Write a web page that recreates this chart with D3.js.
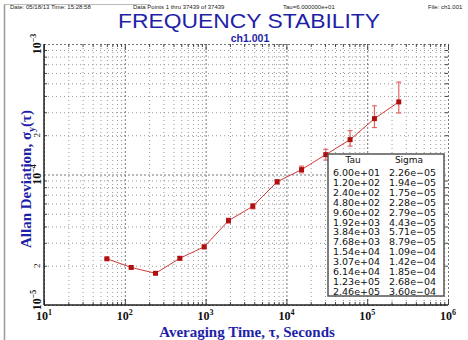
<!DOCTYPE html>
<html>
<head>
<meta charset="utf-8">
<script src="https://cdn.jsdelivr.net/npm/d3@7"></script>
<style>
  body { margin: 0; background: #fff; }
  svg { display: block; }
</style>
</head>
<body>
<svg id="chart"></svg>
<script>
// data
const taus = [6.00e1, 1.20e2, 2.40e2, 4.80e2, 9.60e2, 1.92e3, 3.84e3, 7.68e3, 1.54e4, 3.07e4, 6.14e4, 1.23e5, 2.46e5];
const sigmas = [2.26e-5, 1.94e-5, 1.75e-5, 2.28e-5, 2.79e-5, 4.43e-5, 5.71e-5, 8.79e-5, 1.09e-4, 1.42e-4, 1.85e-4, 2.68e-4, 3.60e-4];
const errLo = [2.23e-5, 1.91e-5, 1.71e-5, 2.21e-5, 2.70e-5, 4.25e-5, 5.45e-5, 8.45e-5, 1.03e-4, 1.29e-4, 1.65e-4, 2.29e-4, 2.96e-4];
const errHi = [2.29e-5, 1.97e-5, 1.79e-5, 2.35e-5, 2.88e-5, 4.62e-5, 5.98e-5, 9.12e-5, 1.16e-4, 1.56e-4, 2.17e-4, 3.36e-4, 5.11e-4];
const xDecades = [1, 2, 3, 4, 5, 6];
const yDecades = [-5, -4, -3];
const headerTexts = ["Date: 05/18/13  Time: 15:28:58", "Data Points 1 thru 37439 of 37439", "Tau=6.000000e+01", "File: ch1.001"];

const width = 468, height = 340;
const margin = { top: 44, right: 20, bottom: 35, left: 44 };
const plotR = 448, plotB = 305;
const blue = "#1f1fa8";

const svg = d3.select("#chart").attr("width", width).attr("height", height);

let x = d3.scaleLog().domain([10, 1e6]).range([margin.left, plotR]);
let y = d3.scaleLog().domain([1e-5, 1e-3]).range([plotB, margin.top]);

// all grid values
let xMinor = [], xMajor = xDecades.map(d => Math.pow(10, d));
for (let d = 1; d < 6; d++) for (let k = 2; k <= 9; k++) xMinor.push(k * Math.pow(10, d));
let yMinor = [], yMajor = yDecades.map(d => Math.pow(10, d));
for (let d = -5; d < -3; d++) for (let k = 2; k <= 9; k++) yMinor.push(k * Math.pow(10, d));

// outer frame
svg.append("line").attr("x1", 4.5).attr("x2", 4.5).attr("y1", 4).attr("y2", height).attr("stroke", "#999").attr("stroke-width", 1.5);
svg.append("line").attr("x1", 4).attr("x2", 150).attr("y1", 4.5).attr("y2", 4.5).attr("stroke", "#bbb").attr("stroke-width", 1);

// header line
const headerX = [10, 133, 283, 428];
svg.selectAll("text.hdr").data(headerTexts).enter().append("text")
  .attr("class", "hdr")
  .attr("x", (d, i) => headerX[i]).attr("y", 9)
  .attr("font-family", "Liberation Sans, Arial, sans-serif")
  .attr("font-size", 6).attr("fill", "#222")
  .text(d => d);

// title
svg.append("text").attr("x", 249).attr("y", 28).attr("text-anchor", "middle")
  .attr("font-family", "Liberation Sans, Arial, sans-serif").attr("font-size", 21)
  .attr("fill", blue).attr("textLength", 262).attr("lengthAdjust", "spacingAndGlyphs")
  .text("FREQUENCY STABILITY");
svg.append("text").attr("x", 250).attr("y", 42).attr("text-anchor", "middle")
  .attr("font-family", "Liberation Sans, Arial, sans-serif").attr("font-size", 10.5).attr("font-weight", "bold")
  .attr("fill", blue).text("ch1.001");

// grid lines through axes
function gridX(vals, dash, color) {
  svg.append("g").attr("transform", "translate(0," + plotB + ")")
    .call(d3.axisBottom(x).tickValues(vals).tickSize(-(plotB - margin.top)).tickFormat(""))
    .call(g => g.select(".domain").remove())
    .call(g => g.selectAll("line").attr("stroke", color).attr("stroke-dasharray", dash));
}
function gridY(vals, dash, color) {
  svg.append("g").attr("transform", "translate(" + margin.left + ",0)")
    .call(d3.axisLeft(y).tickValues(vals).tickSize(-(plotR - margin.left)).tickFormat(""))
    .call(g => g.select(".domain").remove())
    .call(g => g.selectAll("line").attr("stroke", color).attr("stroke-dasharray", dash));
}
gridX(xMinor, "1,3", "#999");
gridY(yMinor, "1,3", "#999");
gridX(xMajor, "2,2", "#777");
gridY(yMajor, "2,2", "#777");

// tick marks on all four sides
function ticks(axis, tr, vals, size) {
  svg.append("g").attr("transform", tr)
    .call(axis.tickValues(vals).tickSize(size).tickFormat(""))
    .call(g => g.select(".domain").remove())
    .call(g => g.selectAll("line").attr("stroke", "#444"));
}
ticks(d3.axisBottom(x), "translate(0," + plotB + ")", xMinor, -3);
ticks(d3.axisBottom(x), "translate(0," + plotB + ")", xMajor, -6);
ticks(d3.axisTop(x), "translate(0," + margin.top + ")", xMinor, -3);
ticks(d3.axisTop(x), "translate(0," + margin.top + ")", xMajor, -6);
ticks(d3.axisLeft(y), "translate(" + margin.left + ",0)", yMinor, -3);
ticks(d3.axisRight(y), "translate(" + plotR + ",0)", yMinor, -3);

// solid left & bottom axes
svg.append("line").attr("x1", margin.left).attr("x2", plotR).attr("y1", plotB).attr("y2", plotB)
  .attr("stroke", "#222").attr("stroke-width", 1.5);
svg.append("line").attr("x1", margin.left).attr("x2", margin.left).attr("y1", margin.top).attr("y2", plotB)
  .attr("stroke", "#222").attr("stroke-width", 1.5);

// x tick labels 10^n
const xl = svg.append("g").selectAll("text").data(xDecades).enter().append("text")
  .attr("x", d => x(Math.pow(10, d))).attr("y", 320)
  .attr("text-anchor", "middle")
  .attr("font-family", "Liberation Serif, Times New Roman, serif").attr("font-size", 12).attr("font-weight", "bold")
  .attr("fill", "#111");
xl.append("tspan").text("10");
xl.append("tspan").attr("dy", -5).attr("font-size", 8).text(d => d);

// y tick labels, rotated
const yl = svg.append("g").selectAll("text").data(yDecades).enter().append("text")
  .attr("transform", d => "translate(41," + (y(Math.pow(10, d)) - (d === -5 ? 5 : 0)) + ") rotate(-90)")
  .attr("text-anchor", "middle")
  .attr("font-family", "Liberation Serif, Times New Roman, serif").attr("font-size", 12).attr("font-weight", "bold")
  .attr("fill", "#111");
yl.append("tspan").text("10");
yl.append("tspan").attr("dy", -5).attr("font-size", 8).text(d => "\u2212" + (-d));

svg.append("g").selectAll("text").data([2e-5, 2e-4]).enter().append("text")
  .attr("transform", d => "translate(40," + y(d) + ") rotate(-90)")
  .attr("text-anchor", "middle")
  .attr("font-family", "Liberation Serif, Times New Roman, serif").attr("font-size", 9)
  .attr("fill", "#111").text("2");

// axis titles
svg.append("text").attr("x", 247).attr("y", 337).attr("text-anchor", "middle")
  .attr("font-family", "Liberation Serif, Times New Roman, serif").attr("font-size", 15).attr("font-weight", "bold")
  .attr("fill", blue).text("Averaging Time, \u03c4, Seconds");

const yt = svg.append("text").attr("transform", "translate(31,179) rotate(-90)").attr("text-anchor", "middle")
  .attr("font-family", "Liberation Serif, Times New Roman, serif").attr("font-size", 15).attr("font-weight", "bold")
  .attr("fill", blue);
yt.append("tspan").text("Allan Deviation, \u03c3");
yt.append("tspan").attr("dy", 4).attr("font-size", 10).text("y");
yt.append("tspan").attr("dy", -4).text("(\u03c4)");

// data
const pts = taus.map((t, i) => ({ tau: t, sigma: sigmas[i], lo: errLo[i], hi: errHi[i] }));

// error bars
const eb = svg.append("g").attr("stroke", "#e06666").attr("stroke-width", 1.2);
eb.selectAll("line.v").data(pts).enter().append("line")
  .attr("x1", d => x(d.tau)).attr("x2", d => x(d.tau))
  .attr("y1", d => y(d.lo)).attr("y2", d => y(d.hi));
eb.selectAll("line.t").data(pts).enter().append("line")
  .attr("x1", d => x(d.tau) - 2.5).attr("x2", d => x(d.tau) + 2.5)
  .attr("y1", d => y(d.hi)).attr("y2", d => y(d.hi));
eb.selectAll("line.b").data(pts).enter().append("line")
  .attr("x1", d => x(d.tau) - 2.5).attr("x2", d => x(d.tau) + 2.5)
  .attr("y1", d => y(d.lo)).attr("y2", d => y(d.lo));

svg.append("path").datum(pts)
  .attr("fill", "none").attr("stroke", "#d03a3a").attr("stroke-width", 1)
  .attr("d", d3.line().x(d => x(d.tau)).y(d => y(d.sigma)));

svg.append("g").selectAll("rect").data(pts).enter().append("rect")
  .attr("x", d => x(d.tau) - 2.5).attr("y", d => y(d.sigma) - 2.5)
  .attr("width", 5).attr("height", 5).attr("fill", "#b01010");

// table box
const tb = svg.append("g");
tb.append("rect").attr("x", 328).attr("y", 154).attr("width", 116).attr("height", 142)
  .attr("fill", "#fff").attr("stroke", "#555").attr("stroke-width", 1.5);
const tf = "DejaVu Sans, Verdana, sans-serif";
tb.append("text").attr("x", 353).attr("y", 163).attr("text-anchor", "middle")
  .attr("font-family", tf).attr("font-size", 9).attr("fill", "#111").text("Tau");
tb.append("text").attr("x", 409).attr("y", 163).attr("text-anchor", "middle")
  .attr("font-family", tf).attr("font-size", 9).attr("fill", "#111").text("Sigma");
function fmt(v) {
  return v.toExponential(2).replace(/e([+-])(\d)$/, "e$10$2").replace("e-", "e\u2212");
}
tb.selectAll("text.tau").data(pts).enter().append("text")
  .attr("x", 333).attr("y", (d, i) => 176 + i * 9.9)
  .attr("font-family", tf).attr("font-size", 9.5).attr("fill", "#111")
  .text(d => fmt(d.tau));
tb.selectAll("text.sig").data(pts).enter().append("text")
  .attr("x", 389).attr("y", (d, i) => 176 + i * 9.9)
  .attr("font-family", tf).attr("font-size", 9.5).attr("fill", "#111")
  .text(d => fmt(d.sigma));
</script>
</body>
</html>
